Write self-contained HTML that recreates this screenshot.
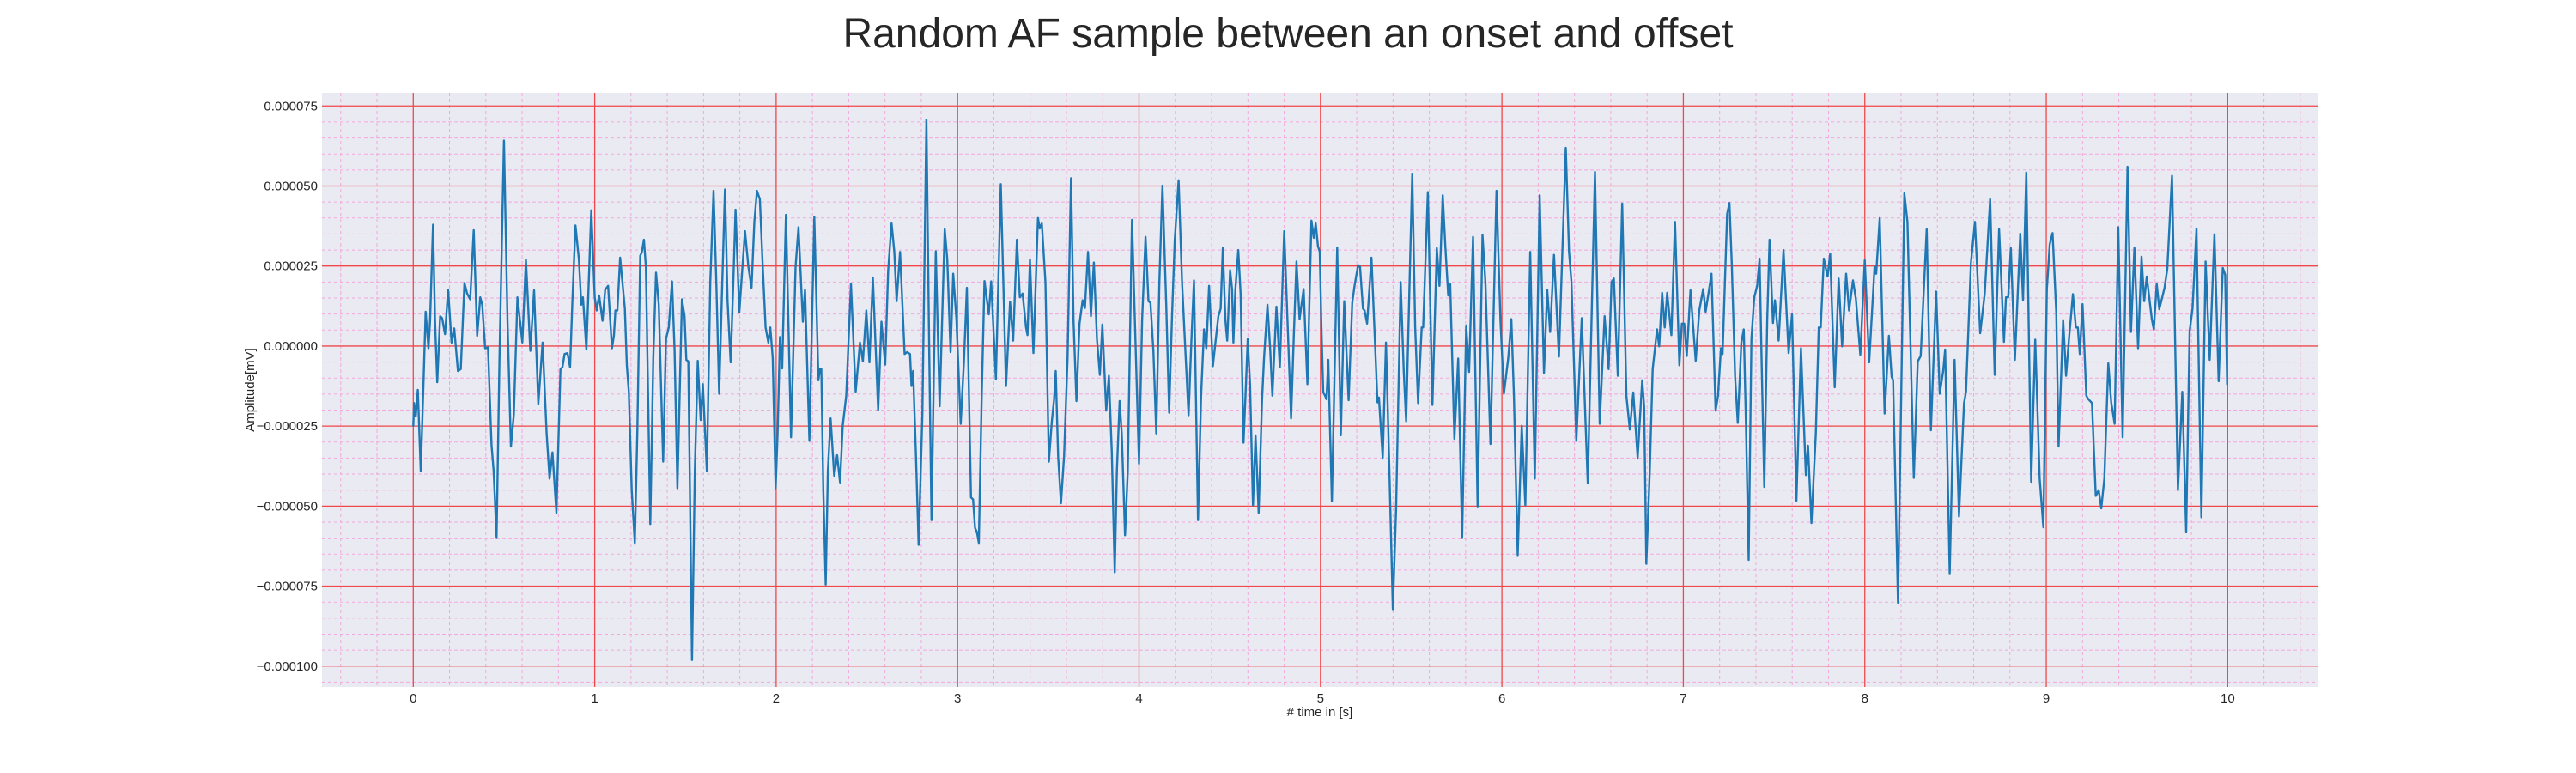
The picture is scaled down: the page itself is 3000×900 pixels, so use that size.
<!DOCTYPE html>
<html><head><meta charset="utf-8">
<style>
html,body{margin:0;padding:0;background:#fff;}
svg{display:block;font-family:"Liberation Sans","DejaVu Sans",sans-serif;}
</style></head>
<body>
<svg id="chart" width="3000" height="900" viewBox="0 0 3000 900" xmlns="http://www.w3.org/2000/svg">
<text x="1500" y="55" text-anchor="middle" font-size="48" fill="#262626">Random AF sample between an onset and offset</text>
<rect x="375" y="108" width="2325" height="692" fill="#eaeaf2"/>
<g id="grid-minor"></g>
<g id="grid-major"></g>
<g id="ticks" font-size="15" fill="#262626"></g>
<g id="series"></g>
<text x="1537" y="834" text-anchor="middle" font-size="15" fill="#262626"># time in [s]</text>
<text transform="translate(296,454) rotate(-90)" text-anchor="middle" font-size="15" fill="#262626">Amplitude[mV]</text>
</svg>
<script>
// time in seconds
const times = [0,.005,.014,.025,.041,.057,.068,.084,.093,.109,.120,.132,.148,.159,.175,.192,.211,.226,.246,.262,.282,.297,.314,.333,.352,.369,.380,.396,.412,.431,.443,.459,.475,.500,.519,.538,.554,.574,.588,.601,.621,.645,.666,.689,.713,.735,.751,.767,.789,.811,.822,.834,.850,.864,.877,.894,.913,.926,.935,.954,.981,1.000,1.011,1.024,1.043,1.058,1.074,1.095,
1.106,1.114,1.125,1.140,1.166,1.177,1.188,1.204,1.221,1.235,1.251,1.260,1.271,1.282,1.306,1.323,1.338,1.353,1.377,1.393,1.408,1.426,1.440,1.456,1.481,1.495,1.505,1.516,1.536,1.552,1.568,1.584,1.596,1.618,1.637,1.655,1.670,1.686,1.702,1.718,1.732,1.749,1.764,1.776,1.797,1.811,1.828,1.847,1.864,1.880,1.894,1.910,1.926,1.942,1.957,1.968,1.981,1.997,2.008,2.021,2.033,2.054,2.082,2.107,2.123,2.147,2.159,2.183,2.210,2.233,
2.241,2.249,2.260,2.273,2.285,2.300,2.320,2.336,2.352,2.367,2.386,2.412,2.438,2.462,2.478,2.497,2.514,2.533,2.562,2.580,2.601,2.617,2.636,2.651,2.664,2.683,2.708,2.722,2.738,2.746,2.755,2.770,2.785,2.806,2.828,2.842,2.856,2.880,2.901,2.929,2.943,2.961,2.976,2.994,3.017,3.035,3.051,3.074,3.085,3.096,3.106,3.117,3.133,3.148,3.172,3.185,3.211,3.238,3.267,3.289,3.306,3.327,3.343,3.358,3.377,
3.385,3.399,3.418,3.443,3.453,3.464,3.484,3.503,3.519,3.532,3.541,3.554,3.570,3.587,3.606,3.625,3.639,3.655,3.672,3.689,3.702,3.719,3.735,3.751,3.768,3.784,3.798,3.819,3.834,3.850,3.866,3.878,3.893,3.905,3.923,3.938,3.961,3.976,4.000,4.017,4.036,4.052,4.063,4.079,4.095,4.112,4.129,4.150,4.166,4.181,4.197,4.218,4.237,4.252,4.273,4.288,4.303,4.325,4.342,4.358,4.371,4.386,4.407,4.421,4.437,4.450,4.462,4.476,4.486,4.502,
4.513,4.520,4.531,4.547,4.560,4.576,4.587,4.599,4.612,4.628,4.642,4.659,4.678,4.689,4.708,4.723,4.735,4.757,4.776,4.800,4.812,4.838,4.853,4.868,4.885,4.907,4.928,4.950,4.963,4.974,4.986,4.996,5.005,5.015,5.025,5.033,5.043,5.063,5.092,5.112,5.131,5.155,5.175,5.188,5.207,5.218,5.234,5.243,5.257,5.281,5.297,5.314,5.322,5.343,5.361,5.380,5.399,5.417,5.442,5.459,5.472,5.491,5.506,5.522,5.538,5.558,5.566,5.592,5.617,5.641,
5.656,5.674,5.688,5.704,5.715,5.738,5.759,5.781,5.803,5.819,5.841,5.866,5.893,5.909,5.937,5.970,5.992,6.011,6.035,6.052,6.066,6.087,6.109,6.129,6.156,6.181,6.208,6.232,6.250,6.266,6.287,6.314,6.352,6.370,6.383,6.410,6.440,6.473,6.513,6.539,6.566,6.588,6.604,6.617,6.639,6.663,6.686,6.705,6.724,6.748,6.773,
6.784,6.796,6.815,6.831,6.855,6.867,6.883,6.897,6.911,6.934,6.954,6.978,6.992,7.005,7.019,7.039,7.068,7.088,7.109,7.123,7.155,7.178,7.191,7.207,7.216,7.241,7.254,7.267,7.285,7.300,7.320,7.333,7.345,7.360,7.375,7.391,7.407,7.420,7.431,7.446,7.462,7.475,7.494,7.505,7.525,7.552,7.580,7.599,7.623,7.648,7.675,7.687,7.706,7.730,7.746,7.757,7.774,7.795,7.809,7.834,7.856,7.875,7.897,7.913,
7.935,7.951,7.975,8.000,8.024,8.054,8.063,8.082,8.109,8.133,8.148,8.156,8.183,8.218,8.235,8.270,8.292,8.308,8.341,8.364,8.393,8.413,8.432,8.443,8.468,8.495,8.519,8.547,8.558,8.585,8.607,8.636,8.661,8.691,8.716,8.740,8.767,8.778,8.790,8.805,8.827,8.857,8.872,8.890,8.917,8.939,8.964,8.984,9.003,9.019,9.035,
9.055,9.068,9.093,9.109,9.125,9.147,9.163,9.174,9.185,9.200,9.221,9.232,9.252,9.273,9.289,9.303,9.320,9.342,9.358,9.377,9.397,9.421,9.448,9.467,9.486,9.506,9.525,9.540,9.554,9.582,9.593,9.609,9.623,9.652,9.667,9.693,9.726,9.750,9.771,9.790,9.806,9.828,9.855,9.878,9.901,9.927,9.950,9.973,9.986,9.997];
// amplitude in units of 1e-6 mV
const amps = [-24.9,-17.8,-22.0,-13.7,-39.1,-10.7,10.7,-0.7,8.1,37.9,8.1,-11.3,9.3,8.7,3.7,17.6,1.1,5.5,-7.8,-7.2,19.7,16.4,14.6,36.2,3.2,15.2,12.9,-0.7,-0.4,-30.8,-39.1,-59.7,-3.7,64.2,8.1,-31.4,-21.4,15.2,8.1,1.1,27.0,-1.5,17.4,-18.1,1.1,-27.3,-41.4,-33.2,-52.1,-7.2,-6.6,-2.5,-2.2,-6.6,14.0,37.7,27.0,12.9,15.2,-1.1,42.4,15.2,11.1,15.8,7.9,17.6,18.8,-0.7,
3.4,11.1,11.1,27.6,11.7,-6.0,-14.3,-45.0,-61.5,-27.3,28.2,29.4,33.2,24.7,-55.6,-3.7,22.9,12.9,-36.1,2.2,5.8,20.2,-1.3,-44.4,14.6,9.3,-4.3,-4.8,-98.1,-39.1,-4.6,-23.1,-11.9,-39.1,20.0,48.5,20.0,-14.9,17.6,48.9,14.0,-5.1,20.0,42.6,10.5,22.3,35.9,24.7,18.2,38.8,48.5,45.9,24.7,5.8,1.1,5.8,-3.7,-44.4,-27.3,2.8,-7.0,41.0,-28.5,24.7,37.1,7.6,17.6,-29.6,40.3,-10.7,
-7.2,-7.2,-45.0,-74.5,-39.1,-22.6,-40.5,-34.1,-42.6,-24.9,-15.5,19.4,-14.3,1.1,-4.8,11.1,-5.1,21.4,-20.0,7.6,-5.8,23.5,38.3,29.4,14.0,29.4,-2.5,-1.9,-2.5,-12.5,-7.8,-33.2,-62.1,-21.4,70.7,5.8,-54.4,29.6,-18.8,36.5,27.0,-1.9,22.6,8.1,-24.3,-4.8,18.2,-47.3,-47.9,-56.8,-58.0,-61.5,-15.5,20.3,9.9,20.2,-10.4,50.6,-12.5,13.8,1.7,33.2,15.2,16.4,5.8,
3.4,27.0,-2.2,40.0,36.7,38.3,20.0,-36.1,-23.7,-16.6,-7.8,-34.4,-49.1,-34.4,-3.7,52.4,8.1,-17.2,7.0,14.3,11.9,29.4,9.3,26.1,2.2,-9.0,6.7,-20.2,-9.3,-33.2,-70.7,-39.1,-17.2,-27.3,-59.1,-39.1,39.4,10.5,-36.7,8.1,34.1,14.0,13.5,-1.3,-27.3,20.0,50.1,12.9,-20.8,8.1,32.9,51.8,20.0,2.2,-21.6,1.1,20.5,-54.4,-15.5,5.2,-0.7,18.8,-6.3,1.1,9.3,11.7,30.6,8.1,1.7,23.7,
17.6,1.1,17.6,30.0,16.4,-30.2,-15.5,2.2,-11.9,-49.7,-27.9,-52.1,-16.6,-3.7,12.9,-1.3,-15.5,12.3,-6.6,35.9,17.6,-22.6,3.4,26.4,8.4,17.8,-11.9,39.2,33.8,38.3,31.2,29.4,5.8,-14.3,-15.5,-16.6,-4.3,-48.5,30.8,-27.9,14.0,-16.9,13.5,18.8,25.3,24.7,11.7,11.1,7.0,27.6,5.8,-17.6,-16.1,-34.9,1.1,-39.1,-82.2,-50.9,20.0,-7.8,-23.5,20.0,53.6,5.8,-17.8,5.8,5.8,48.1,-18.4,30.6,
18.8,47.1,31.2,15.8,19.4,-29.0,-3.9,-59.7,6.4,-8.1,34.1,-50.1,34.7,20.0,-30.6,48.5,8.1,-14.9,-3.7,8.4,-15.5,-65.3,-24.9,-49.7,29.4,-41.4,47.1,-8.4,17.6,4.4,28.5,-3.3,61.9,29.4,20.0,-29.6,8.7,-42.9,54.4,-24.3,9.3,-7.2,20.0,21.1,-9.3,44.5,-15.5,-26.1,-14.5,-34.9,-10.7,
-19.0,-68.0,-39.1,-7.2,5.2,-0.1,16.6,5.8,16.6,3.4,38.8,-6.0,7.0,7.0,-3.1,17.4,-4.6,11.1,17.8,10.7,22.6,-20.2,-15.5,-0.7,-2.5,41.2,44.7,25.9,-9.6,-24.0,1.1,5.2,-23.7,-66.8,2.2,15.2,18.8,27.3,-3.7,-44.0,8.1,33.2,7.2,14.3,1.7,30.0,-2.2,9.9,-48.3,-0.7,-40.3,-31.1,-55.3,-27.3,5.8,5.8,27.3,21.7,28.8,-12.9,21.1,-0.1,22.6,11.1,
20.5,14.6,-2.7,26.8,-5.1,24.7,22.6,40.0,-21.1,3.2,-9.6,-10.7,-80.2,47.7,38.8,-41.2,-4.8,-3.1,36.5,-26.3,17.0,-14.9,-7.8,-1.1,-71.0,-4.3,-53.2,-17.8,-14.3,25.9,38.8,4.0,16.4,45.9,-9.0,36.5,1.3,15.2,15.2,30.6,-4.3,35.1,14.3,54.2,-42.4,2.0,-41.4,-56.6,17.6,31.8,35.3,
10.5,-31.4,8.1,-9.3,2.2,16.2,5.8,5.8,-2.5,13.1,-15.5,-16.6,-17.8,-46.8,-45.0,-50.7,-41.4,-5.4,-17.6,-24.3,37.1,-28.5,56.0,4.4,30.6,-0.7,27.9,14.0,21.7,8.4,5.2,19.4,11.5,18.2,24.1,53.2,-45.0,-14.3,-58.0,4.6,11.7,36.7,-53.5,26.4,-4.3,34.9,-11.0,24.4,22.3,-11.9];
const xTickVals = [0,1,2,3,4,5,6,7,8,9,10];
const yTickVals = [75,50,25,0,-25,-50,-75,-100];
const yTickLabels = ["0.000075","0.000050","0.000025","0.000000","\u22120.000025","\u22120.000050","\u22120.000075","\u22120.000100"];

const NS = "http://www.w3.org/2000/svg";
const L = 375, R = 2700, T = 108, B = 800;
const xMin = -0.503, xMax = 10.5, yMin = -106.5, yMax = 79.1;
function xs(t){ return L + (t - xMin) / (xMax - xMin) * (R - L); }
function ys(v){ return B - (v - yMin) / (yMax - yMin) * (B - T); }
function mk(tag, attrs, parent){
  const e = document.createElementNS(NS, tag);
  for (const k in attrs) e.setAttribute(k, attrs[k]);
  parent.appendChild(e); return e;
}
const gMin = document.getElementById('grid-minor');
const gMaj = document.getElementById('grid-major');
const gT = document.getElementById('ticks');
const gS = document.getElementById('series');
for (let i = -2; i <= 52; i++){
  const t = i * 0.2; if (i % 5 === 0) continue;
  const X = xs(t); if (X < L || X > R) continue;
  const ln = mk('line', {x1:X, x2:X, y1:T, y2:B, stroke:'#f3a8dc', 'stroke-width':1, 'stroke-dasharray':'4,3'}, gMin);
  
  
}
for (let v = -105; v <= 75; v += 5){
  if (v % 25 === 0) continue;
  const Y = ys(v);
  const ln = mk('line', {x1:L, x2:R, y1:Y, y2:Y, stroke:'#f3a8dc', 'stroke-width':1, 'stroke-dasharray':'4,3'}, gMin);
  
  
}
xTickVals.forEach(t => {
  const X = xs(t);
  const ln = mk('line', {x1:X, x2:X, y1:T, y2:B, stroke:'#f04848', 'stroke-width':1.3}, gMaj);
  
  
  const tx = mk('text', {x:X, y:B + 18, 'text-anchor':'middle'}, gT);
  tx.textContent = String(t);
  
  
});
yTickVals.forEach((v, i) => {
  const Y = ys(v);
  const ln = mk('line', {x1:L, x2:R, y1:Y, y2:Y, stroke:'#f04848', 'stroke-width':1.3}, gMaj);
  
  
  const tx = mk('text', {x:L - 5, y:Y + 5, 'text-anchor':'end'}, gT);
  tx.textContent = yTickLabels[i];
  
  
});
let d = '';
for (let i = 0; i < times.length; i++){
  d += (i ? 'L' : 'M') + xs(times[i]).toFixed(1) + ',' + ys(amps[i]).toFixed(1);
}
const path = mk('path', {d:d, fill:'none', stroke:'#1f77b4', 'stroke-width':2.4, 'stroke-linejoin':'round', 'stroke-linecap':'round'}, gS);


</script>
</body></html>
